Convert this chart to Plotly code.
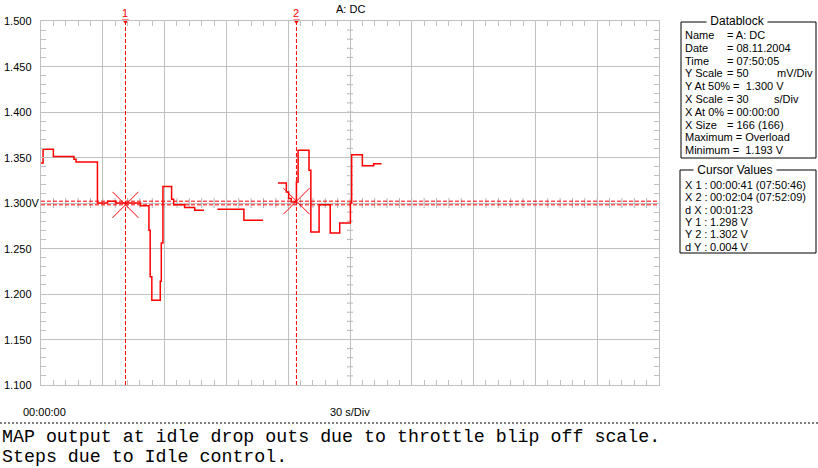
import numpy as np
import plotly.graph_objects as go

# MAP sensor trace: time in s, output in V (None = gap in record)
time_s = [0, 1, 6, 16, 17, 27.4, 32.3, 36.2, 48.3, 52.4, 53.0, 53.8, 57.9, 58.4, 59.2, 63.4, 64.4,
          69.7, 74.6, 79.1, 79.6,
          85.6, 98.5, 107.8, 108.3,
          115.0, 119.1, 120.2, 121.5, 124.0, 124.8, 130.1, 131.0, 135.0, 140.4, 145.0, 150.2,
          150.8, 156.0, 161.5, 165.3]
map_v = [1.344, 1.359, 1.351, 1.348, 1.345, 1.300, 1.302, 1.300, 1.297, 1.270, 1.219, 1.193, 1.214,
         1.256, 1.318, 1.304, 1.298, 1.295, 1.292, 1.292, None,
         1.293, 1.281, 1.281, None,
         1.322, 1.312, 1.305, 1.301, 1.323, 1.358, 1.336, 1.268, 1.298, 1.267, 1.278, 1.300,
         1.353, 1.341, 1.343, 1.343]

# cursors
cursor_t = [41, 124]
cursor_v = [1.298, 1.302]
cursor_names = ["1", "2"]

y_ticks = [1.500, 1.450, 1.400, 1.350, 1.300, 1.250, 1.200, 1.150, 1.100]
y_tick_text = ["1.500", "1.450", "1.400", "1.350", "1.300V", "1.250", "1.200", "1.150", "1.100"]

db_labels = ["Name", "Date", "Time", "Y Scale", "Y At 50% =  1.300 V", "X Scale", "X At 0%",
             "X Size", "Maximum = Overload", "Minimum =  1.193 V"]
db_values = ["= A: DC", "= 08.11.2004", "= 07:50:05", "= 50", "", "= 30", "= 00:00:00",
             "= 166 (166)", "", ""]
db_units = ["", "", "", "mV/Div", "", "s/Div", "", "", "", ""]

cv_labels = ["X 1 :", "X 2 :", "d X :", "Y 1 :", "Y 2 :", "d Y :"]
cv_values = ["00:00:41 (07:50:46)", "00:02:04 (07:52:09)", "00:01:23", "1.298 V", "1.302 V", "0.004 V"]

notes = ["MAP output at idle drop outs due to throttle blip off scale.",
         "Steps due to Idle control."]

W_FIG, H_FIG = 818, 468
L, R, T, B = 41, 159, 21, 83
PW, PH = W_FIG - L - R, H_FIG - T - B
GRID = "#c0c0c0"
RED = "#ff0000"
SANS = "Arial, Liberation Sans, sans-serif"


def px(x):
    return (x - L) / PW


def py(y):
    return 1 - (y - T) / PH


fig = go.Figure()

fig.add_trace(go.Scatter(x=time_s, y=map_v, mode="lines", line=dict(color=RED, width=1.5, shape="hv"),
                         connectgaps=False, hoverinfo="skip"))

# cursor cross marks
fig.add_trace(go.Scatter(x=cursor_t, y=cursor_v, mode="markers",
                         marker=dict(symbol="x-thin", size=26, line=dict(color=RED, width=1)),
                         hoverinfo="skip"))
# little arrows at top of cursors
fig.add_trace(go.Scatter(x=cursor_t, y=[1.5, 1.5], mode="markers", cliponaxis=False,
                         marker=dict(symbol="triangle-down", size=6, color=RED), hoverinfo="skip"))

shapes = []
for t in cursor_t:
    shapes.append(dict(type="line", xref="x", yref="y", x0=t, x1=t, y0=1.1, y1=1.5,
                       line=dict(color=RED, width=1, dash="4px,2px")))
for v in cursor_v:
    shapes.append(dict(type="line", xref="x", yref="y", x0=0, x1=300, y0=v, y1=v,
                       line=dict(color=RED, width=1, dash="4px,2px")))

# centre crosshair ticks
for t in np.arange(6, 300, 6):
    shapes.append(dict(type="line", xref="x", yref="y", x0=t, x1=t, ysizemode="pixel", yanchor=1.3,
                       y0=-5, y1=5, layer="below", line=dict(color="#b4b4b4", width=1)))
for v in np.arange(1.11, 1.5, 0.01):
    shapes.append(dict(type="line", xref="x", yref="y", y0=v, y1=v, xsizemode="pixel", xanchor=150,
                       x0=-3, x1=3, layer="below", line=dict(color="#b4b4b4", width=1)))

# info boxes
shapes.append(dict(type="rect", xref="paper", yref="paper", x0=px(681), x1=px(816), y0=py(22), y1=py(158),
                   line=dict(color="black", width=1)))
shapes.append(dict(type="rect", xref="paper", yref="paper", x0=px(680), x1=px(816), y0=py(170), y1=py(253),
                   line=dict(color="black", width=1)))
# dotted separator
shapes.append(dict(type="line", xref="paper", yref="paper", x0=px(0), x1=px(818), y0=py(423), y1=py(423),
                   line=dict(color="black", width=1, dash="2px,2px")))

ann = []


def text(x, y, s, size=11, color="black", anchor="left", family=SANS, bg=None):
    d = dict(xref="paper", yref="paper", x=px(x), y=py(y), text=s, showarrow=False,
             xanchor=anchor, yanchor="middle", font=dict(family=family, size=size, color=color))
    if bg:
        d["bgcolor"] = bg
        d["borderpad"] = 0
    ann.append(d)


for v, s in zip(y_ticks, y_tick_text):
    ann.append(dict(xref="paper", yref="y", x=px(2), y=v, text=s, showarrow=False, xanchor="left",
                    yanchor="middle", font=dict(family=SANS, size=11, color="black")))

text(350, 9, "A: DC", anchor="center")
for t, name in zip(cursor_t, cursor_names):
    ann.append(dict(xref="x", yref="paper", x=t, y=py(13), text=name, showarrow=False, xanchor="center",
                    yanchor="middle", font=dict(family=SANS, size=11, color=RED)))

text(21, 412, "00:00:00")
text(350, 412, "30 s/Div", anchor="center")

text(737, 21, " Datablock ", anchor="center", bg="white", size=12)
for i, (lab, val, unit) in enumerate(zip(db_labels, db_values, db_units)):
    y = 35 + i * 12.8
    text(683, y, lab)
    if val:
        text(725, y, val)
    if unit:
        text(775 if unit == "mV/Div" else 772, y, unit)

text(735, 170, " Cursor Values ", anchor="center", bg="white", size=12)
for i, (lab, val) in enumerate(zip(cv_labels, cv_values)):
    y = 185 + i * 12.3
    text(683, y, lab)
    text(708, y, val)

for i, line in enumerate(notes):
    text(0, 437 + i * 20, line, size=18.3, family="Courier New, Liberation Mono, monospace")

axis_common = dict(showline=True, linecolor=GRID, linewidth=1, mirror="ticks", showgrid=True,
                   gridcolor=GRID, gridwidth=1, zeroline=False, ticks="inside", ticklen=5,
                   tickcolor=GRID, showticklabels=False)

fig.update_layout(
    width=W_FIG, height=H_FIG,
    margin=dict(l=L, r=R, t=T, b=B, pad=0),
    paper_bgcolor="white", plot_bgcolor="white",
    showlegend=False,
    xaxis=dict(range=[0, 300], tick0=0, dtick=30,
               minor=dict(dtick=6, ticks="inside", ticklen=5, tickcolor=GRID, showgrid=False),
               **axis_common),
    yaxis=dict(range=[1.1, 1.5], tick0=1.1, dtick=0.05,
               minor=dict(dtick=0.01, ticks="inside", ticklen=5, tickcolor=GRID, showgrid=False),
               **axis_common),
    shapes=shapes,
    annotations=ann,
)

# page has a default body margin; drop it so the figure sits at the window origin
fig.write_html("out.html", config={"displayModeBar": False},
               post_script="document.body.style.margin='0px';")
